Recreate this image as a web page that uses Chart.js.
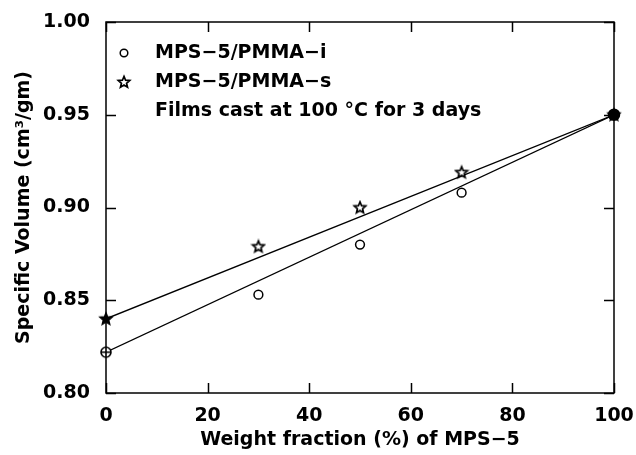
<!DOCTYPE html>
<html>
<head>
<meta charset="utf-8">
<script src="https://cdn.jsdelivr.net/npm/chart.js@4/dist/chart.umd.min.js"></script>
<style>
  html, body { margin: 0; padding: 0; background: #fff; }
  #chart { display: block; }
</style>
</head>
<body>
<canvas id="chart" width="636" height="455"></canvas>
<script>
// Weight fraction of MPS-5 in the blend (%)
const weightFraction = [0, 30, 50, 70, 100];
// Specific volume (cm3/gm) of the two blend series
const volumeI = [0.822, 0.853, 0.880, 0.908, 0.950];
const volumeS = [0.840, 0.879, 0.900, 0.919, 0.950];
// Axis tick values
const xTicks = [0, 20, 40, 60, 80, 100];
const yTicks = [0.80, 0.85, 0.90, 0.95, 1.00];
// Legend text
const seriesNames = ['MPS\u22125/PMMA\u2212i', 'MPS\u22125/PMMA\u2212s'];
const noteText = 'Films cast at 100 \u00B0C for 3 days';

const FONT = '"DejaVu Sans", sans-serif';
const INK = '#000';

// Five-pointed star marker drawn on a small canvas
function makeStar(filled) {
  const c = document.createElement('canvas');
  c.width = 16; c.height = 16;
  const g = c.getContext('2d');
  g.beginPath();
  for (let i = 0; i < 10; i++) {
    const r = i % 2 === 0 ? 6.0 : 2.7;
    const a = -Math.PI / 2 + i * Math.PI / 5;
    const px = 8 + r * Math.cos(a), py = 8.4 + r * Math.sin(a);
    if (i === 0) g.moveTo(px, py); else g.lineTo(px, py);
  }
  g.closePath();
  g.fillStyle = filled ? INK : '#fff';
  g.fill();
  g.lineWidth = 1.7;
  g.lineJoin = 'miter';
  g.strokeStyle = INK;
  g.stroke();
  return c;
}

// Circle with a cross inside (pure component marker)
function makeCirclePlus() {
  const c = document.createElement('canvas');
  c.width = 14; c.height = 14;
  const g = c.getContext('2d');
  g.strokeStyle = INK;
  g.lineWidth = 1.6;
  g.beginPath();
  g.arc(7, 7, 5, 0, Math.PI * 2);
  g.fillStyle = '#fff';
  g.fill();
  g.stroke();
  g.beginPath();
  g.moveTo(2, 7); g.lineTo(12, 7);
  g.moveTo(7, 2); g.lineTo(7, 12);
  g.stroke();
  return c;
}

const starOpen = makeStar(false);
const starFilled = makeStar(true);
const circlePlus = makeCirclePlus();

const last = weightFraction.length - 1;
const pts = (ys) => weightFraction.map((x, i) => ({ x, y: ys[i] }));
const endLine = (ys) => [{ x: weightFraction[0], y: ys[0] }, { x: weightFraction[last], y: ys[last] }];

// Frame with inward ticks on all four sides
const framePlugin = {
  id: 'frame',
  beforeDatasetsDraw(chart) {
    const { ctx, chartArea: a, scales } = chart;
    ctx.save();
    ctx.strokeStyle = INK;
    ctx.lineWidth = 1.5;
    ctx.strokeRect(a.left, a.top, a.right - a.left, a.bottom - a.top);
    const len = 10;
    ctx.beginPath();
    xTicks.forEach(v => {
      const px = Math.round(scales.x.getPixelForValue(v)) + 0.5;
      ctx.moveTo(px, a.bottom); ctx.lineTo(px, a.bottom - len);
      ctx.moveTo(px, a.top); ctx.lineTo(px, a.top + len);
    });
    yTicks.forEach(v => {
      const py = Math.round(scales.y.getPixelForValue(v)) + 0.5;
      ctx.moveTo(a.left, py); ctx.lineTo(a.left + len, py);
      ctx.moveTo(a.right, py); ctx.lineTo(a.right - len, py);
    });
    ctx.stroke();
    ctx.restore();
  }
};

// Legend block in the upper-left corner of the plot
const legendPlugin = {
  id: 'innerLegend',
  afterDatasetsDraw(chart) {
    const { ctx, chartArea: a } = chart;
    const mx = a.left + 18, tx = a.left + 49;
    const rows = [a.top + 31, a.top + 60, a.top + 89];
    ctx.save();
    ctx.fillStyle = INK;
    ctx.strokeStyle = INK;
    ctx.font = 'bold 19px ' + FONT;
    ctx.textBaseline = 'middle';
    ctx.textAlign = 'left';
    ctx.lineWidth = 1.5;
    ctx.beginPath();
    ctx.arc(mx, rows[0], 3.8, 0, Math.PI * 2);
    ctx.stroke();
    ctx.drawImage(starOpen, mx - 8, rows[1] - 8);
    ctx.fillText(seriesNames[0], tx, rows[0]);
    ctx.fillText(seriesNames[1], tx, rows[1]);
    ctx.fillText(noteText, tx, rows[2]);
    ctx.restore();
  }
};

new Chart(document.getElementById('chart'), {
  type: 'scatter',
  data: {
    datasets: [
      {
        label: seriesNames[1],
        data: pts(volumeS),
        pointStyle: weightFraction.map((_, i) => (i === 0 || i === last) ? starFilled : starOpen),
        pointRadius: 6,
        showLine: false,
        clip: false
      },
      {
        label: seriesNames[0],
        data: pts(volumeI),
        pointStyle: weightFraction.map((_, i) => i === 0 ? circlePlus : 'circle'),
        pointRadius: weightFraction.map((_, i) => i === last ? 5.5 : 4.4),
        pointBackgroundColor: weightFraction.map((_, i) => i === last ? INK : '#fff'),
        pointBorderColor: INK,
        pointBorderWidth: 1.5,
        showLine: false,
        clip: false
      },
      {
        label: 'additivity s',
        data: endLine(volumeS),
        showLine: true,
        borderColor: INK,
        borderWidth: 1.3,
        pointRadius: 0,
        fill: false
      },
      {
        label: 'additivity i',
        data: endLine(volumeI),
        showLine: true,
        borderColor: INK,
        borderWidth: 1.3,
        pointRadius: 0,
        fill: false
      }
    ]
  },
  options: {
    responsive: false,
    devicePixelRatio: 1,
    animation: false,
    events: [],
    layout: { padding: { top: 22, right: 22, left: 0, bottom: 0 } },
    plugins: { legend: { display: false }, tooltip: { enabled: false } },
    scales: {
      x: {
        type: 'linear',
        min: 0, max: 100,
        afterBuildTicks: s => { s.ticks = xTicks.map(v => ({ value: v })); },
        afterFit: s => { s.height = 62; s.paddingLeft = 0; s.paddingRight = 0; },
        grid: { display: false, drawTicks: false },
        border: { display: false },
        ticks: {
          color: INK,
          padding: 12,
          maxRotation: 0,
          font: { family: FONT, size: 19, weight: 'bold', lineHeight: 1.2 },
          callback: v => String(v)
        },
        title: {
          display: true,
          text: 'Weight fraction (%) of MPS\u22125',
          color: INK,
          padding: { top: 0, bottom: 4 },
          font: { family: FONT, size: 19, weight: 'bold', lineHeight: 1.2 }
        }
      },
      y: {
        type: 'linear',
        min: 0.80, max: 1.00,
        afterBuildTicks: s => { s.ticks = yTicks.map(v => ({ value: v })); },
        afterFit: s => { s.width = 106; s.paddingTop = 0; s.paddingBottom = 0; },
        grid: { display: false, drawTicks: false },
        border: { display: false },
        ticks: {
          color: INK,
          padding: 16,
          font: { family: FONT, size: 19, weight: 'bold', lineHeight: 1.2 },
          callback: v => v.toFixed(2)
        },
        title: {
          display: true,
          text: 'Specific Volume (cm\u00B3/gm)',
          color: INK,
          padding: { top: 13, bottom: 0 },
          font: { family: FONT, size: 19, weight: 'bold', lineHeight: 1.2 }
        }
      }
    }
  },
  plugins: [framePlugin, legendPlugin]
});
</script>
</body>
</html>
